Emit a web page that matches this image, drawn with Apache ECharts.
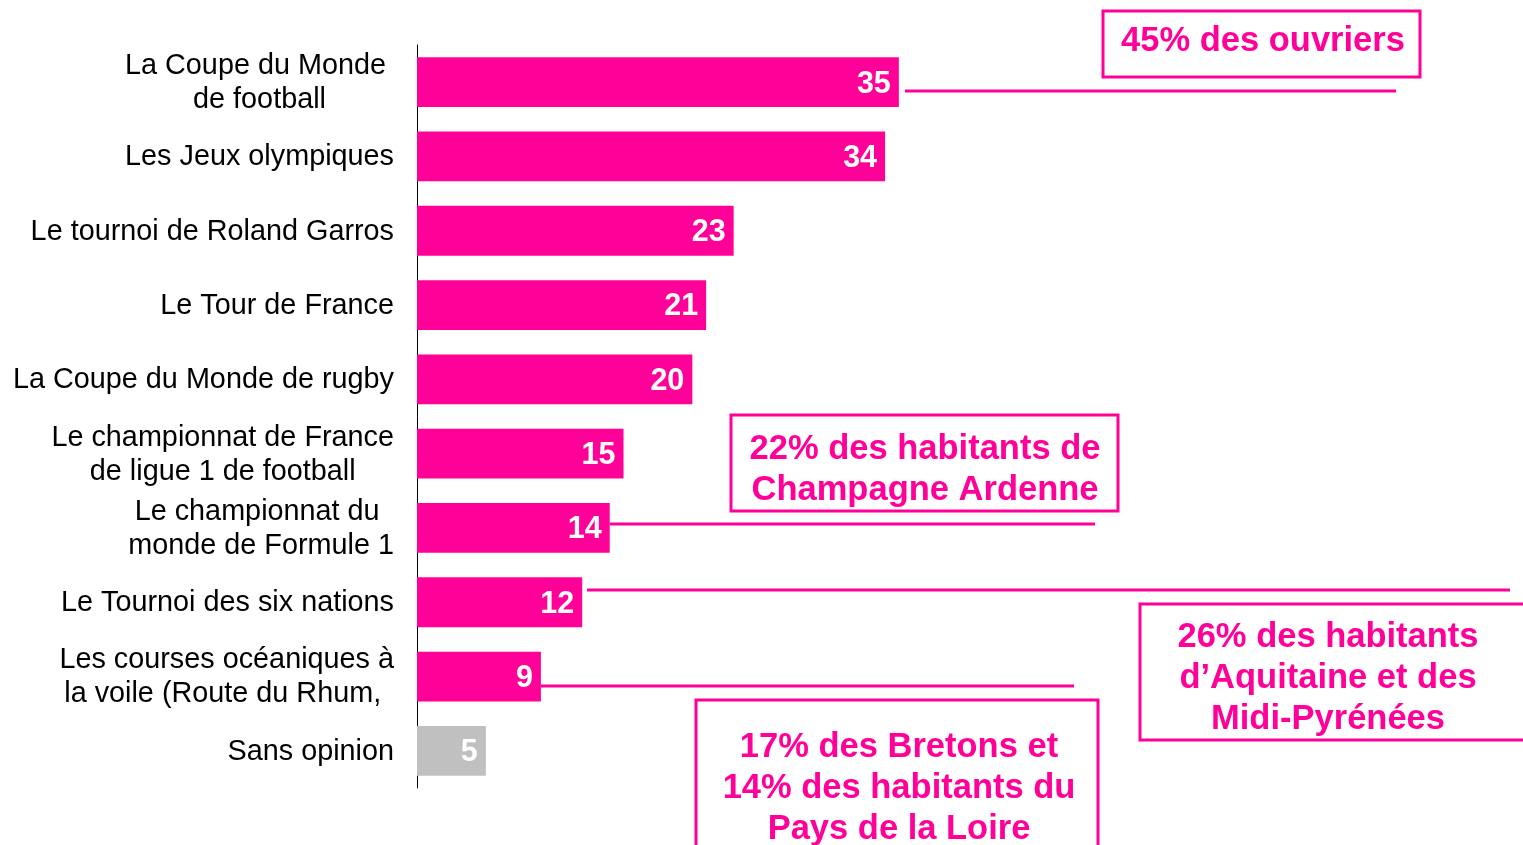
<!DOCTYPE html>
<html>
<head>
<meta charset="utf-8">
<script src="https://cdn.jsdelivr.net/npm/echarts@6/dist/echarts.min.js"></script>
<style>
html,body{margin:0;padding:0;background:#fff;}
#chart{width:1523px;height:845px;}
</style>
</head>
<body>
<div id="chart"></div>
<script>
const categories = [
  "La Coupe du Monde \nde football",
  "Les Jeux olympiques",
  "Le tournoi de Roland Garros",
  "Le Tour de France",
  "La Coupe du Monde de rugby",
  "Le championnat de France\nde ligue 1 de football",
  "Le championnat du \nmonde de Formule 1",
  "Le Tournoi des six nations",
  "Les courses océaniques à\nla voile (Route du Rhum, ",
  "Sans opinion"
];
const values = [35, 34, 23, 21, 20, 15, 14, 12, 9, 5];
const highlightIndex = 9; // "Sans opinion" drawn in grey

const notes = [
  "45% des ouvriers",
  "22% des habitants de\nChampagne Ardenne",
  "26% des habitants\nd\u2019Aquitaine et des\nMidi-Pyrénées",
  "17% des Bretons et\n14% des habitants du\nPays de la Loire"
];

const PINK = '#FF0099';
const GREY = '#C0C0C0';
const FONT = "'Liberation Sans', Arial, sans-serif";

const chart = echarts.init(document.getElementById('chart'));

function boxText(t, x, y) {
  return {
    type: 'text', z: 10,
    style: {
      text: t, x: x, y: y, fill: PINK,
      font: 'bold 34.5px ' + FONT,
      textAlign: 'center', textVerticalAlign: 'middle', lineHeight: 41
    }
  };
}
function rect(x, y, w, h) {
  return {
    type: 'rect', z: 9,
    shape: { x: x, y: y, width: w, height: h },
    style: { fill: '#fff', stroke: PINK, lineWidth: 3 }
  };
}
function line(x1, y1, x2, y2) {
  return {
    type: 'line', z: 8,
    shape: { x1: x1, y1: y1, x2: x2, y2: y2 },
    style: { stroke: PINK, lineWidth: 3 }
  };
}

const option = {
  animation: false,
  backgroundColor: '#fff',
  grid: { left: 417, right: 280, top: 45, bottom: 57, containLabel: false },
  xAxis: {
    type: 'value', min: 0, max: 60, show: false
  },
  yAxis: {
    type: 'category',
    data: categories,
    inverse: true,
    axisLine: { show: true, lineStyle: { color: '#000', width: 1 } },
    axisTick: { show: false },
    splitLine: { show: false },
    axisLabel: {
      margin: 23,
      color: '#000',
      fontFamily: FONT,
      fontSize: 29,
      lineHeight: 34,
      formatter: function (v) {
        return v.split('\n').map(function (l) { return '{c|' + l + '}'; }).join('\n');
      },
      rich: {
        c: { align: 'center', fontSize: 28.8, lineHeight: 34, color: '#000', fontFamily: FONT, padding: [2, 0, 0, 0] }
      }
    }
  },
  series: [{
    type: 'bar',
    data: values.map(function (v, i) {
      return { value: v, itemStyle: { color: i === highlightIndex ? GREY : PINK } };
    }),
    barCategoryGap: '33%',
    label: {
      show: true,
      position: 'insideRight',
      distance: 8,
      offset: [0, 2],
      color: '#fff',
      fontFamily: FONT,
      fontWeight: 'bold',
      fontSize: 30.5
    }
  }],
  graphic: [
    line(905, 91, 1396, 91),
    rect(1103, 11, 317, 66),
    boxText(notes[0], 1263, 41),

    rect(731, 415, 387, 96),
    boxText(notes[1], 925, 470),
    line(610, 524, 1095, 524),

    line(587, 590, 1510, 590),
    rect(1140, 604, 400, 136),
    boxText(notes[2], 1328, 678),

    line(541, 686, 1074, 686),
    rect(696, 700, 402, 160),
    boxText(notes[3], 899, 788)
  ]
};
chart.setOption(option);
</script>
</body>
</html>
